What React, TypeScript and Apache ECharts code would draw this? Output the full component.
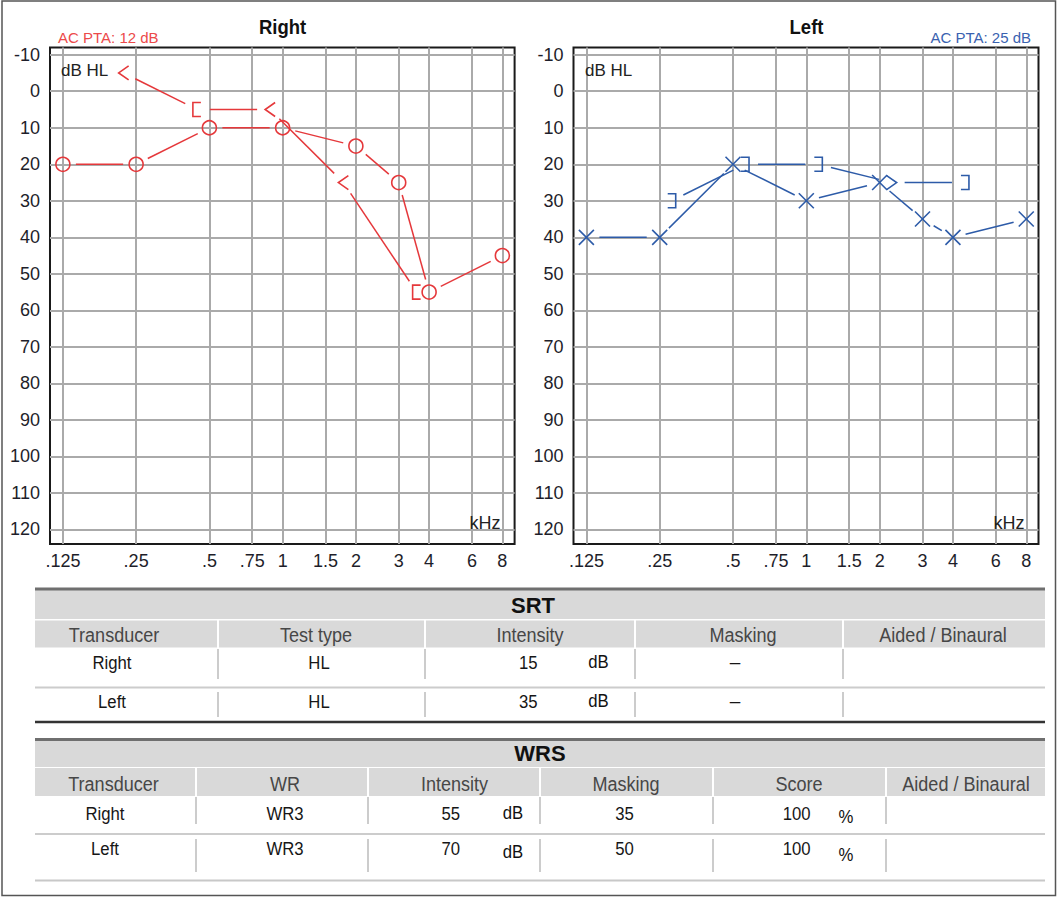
import React, { useEffect, useRef } from 'react';
import * as echarts from 'echarts';

// ---------- data ----------
const FREQS = [0.125, 0.25, 0.5, 0.75, 1, 1.5, 2, 3, 4, 6, 8];
const FREQ_LABELS = ['.125', '.25', '.5', '.75', '1', '1.5', '2', '3', '4', '6', '8'];
const DB_TICKS = [-10, 0, 10, 20, 30, 40, 50, 60, 70, 80, 90, 100, 110, 120];

const RIGHT_AC_FREQS = [0.125, 0.25, 0.5, 1, 2, 3, 4, 8];
const RIGHT_AC_DB = [20, 20, 10, 10, 15, 25, 55, 45];
const RIGHT_BC_FREQS = [0.25, 0.5, 1, 2, 4];
const RIGHT_BC_DB = [-5, 5, 5, 25, 55];
const RIGHT_BC_SYMBOLS = ['<', '[', '<', '<', '['];

const LEFT_AC_FREQS = [0.125, 0.25, 0.5, 1, 2, 3, 4, 8];
const LEFT_AC_DB = [40, 40, 20, 30, 25, 35, 40, 35];
const LEFT_BC_FREQS = [0.25, 0.5, 1, 2, 4];
const LEFT_BC_DB = [30, 20, 20, 25, 25];
const LEFT_BC_SYMBOLS = [']', ']', ']', '>', ']'];

const RIGHT_PTA = 12;
const LEFT_PTA = 25;

const SRT_HEADERS = ['Transducer', 'Test type', 'Intensity', 'Masking', 'Aided / Binaural'];
const SRT_TRANSDUCER = ['Right', 'Left'];
const SRT_TEST_TYPE = ['HL', 'HL'];
const SRT_INTENSITY = [15, 35];
const SRT_MASKING = ['–', '–'];

const WRS_HEADERS = ['Transducer', 'WR', 'Intensity', 'Masking', 'Score', 'Aided / Binaural'];
const WRS_TRANSDUCER = ['Right', 'Left'];
const WRS_WR = ['WR3', 'WR3'];
const WRS_INTENSITY = [55, 70];
const WRS_MASKING = [35, 50];
const WRS_SCORE = [100, 100];

// ---------- styling ----------
const FONT = '"Liberation Sans", Arial, Helvetica, sans-serif';
const RED = '#e5383b';
const BLUE = '#2d5ba8';
const GAP = 13;
const X_MIN = -3.176;
const X_MAX = 3.167;

function freqLabel(v: number): string {
  const i = FREQS.findIndex((f) => Math.abs(Math.log2(f) - v) < 1e-6);
  return i >= 0 ? FREQ_LABELS[i] : '';
}

function symbolShape(kind: string, cx: number, cy: number, color: string): any {
  const style = { stroke: color, lineWidth: 1.6, fill: 'none' };
  const poly = (pts: number[][]) => ({ type: 'polyline', shape: { points: pts }, style });
  switch (kind) {
    case 'O':
      return { type: 'circle', shape: { cx, cy, r: 7 }, style };
    case 'X':
      return {
        type: 'group',
        children: [
          { type: 'line', shape: { x1: cx - 7.5, y1: cy - 7.5, x2: cx + 7.5, y2: cy + 7.5 }, style },
          { type: 'line', shape: { x1: cx - 7.5, y1: cy + 7.5, x2: cx + 7.5, y2: cy - 7.5 }, style },
        ],
      };
    case '<':
      return poly([[cx + 5, cy - 7], [cx - 5, cy], [cx + 5, cy + 7]]);
    case '>':
      return poly([[cx - 5, cy - 7], [cx + 5, cy], [cx - 5, cy + 7]]);
    case '[':
      return poly([[cx + 4, cy - 7], [cx - 4, cy - 7], [cx - 4, cy + 7], [cx + 4, cy + 7]]);
    case ']':
    default:
      return poly([[cx - 4, cy - 7], [cx + 4, cy - 7], [cx + 4, cy + 7], [cx - 4, cy + 7]]);
  }
}

function makeTrack(name: string, freqs: number[], dbs: number[], symbols: string[], color: string, offset: number, gridIndex: number) {
  const data = freqs.map((f, i) => [Math.log2(f), dbs[i]]);
  return {
    name,
    type: 'custom',
    xAxisIndex: gridIndex,
    yAxisIndex: gridIndex,
    data,
    encode: { x: 0, y: 1 },
    clip: false,
    silent: true,
    renderItem: (params: any, api: any) => {
      const i = params.dataIndex;
      const p = api.coord([data[i][0], data[i][1]]);
      const cx = p[0] + offset;
      const cy = p[1];
      const children: any[] = [symbolShape(symbols[i], cx, cy, color)];
      if (i < data.length - 1) {
        const q = api.coord([data[i + 1][0], data[i + 1][1]]);
        const qx = q[0] + offset;
        const qy = q[1];
        const dx = qx - cx;
        const dy = qy - cy;
        const len = Math.hypot(dx, dy);
        if (len > 2 * GAP) {
          const ux = dx / len;
          const uy = dy / len;
          children.push({
            type: 'line',
            shape: { x1: cx + ux * GAP, y1: cy + uy * GAP, x2: qx - ux * GAP, y2: qy - uy * GAP },
            style: { stroke: color, lineWidth: 1.5 },
          });
        }
      }
      return { type: 'group', children };
    },
  };
}

function txt(text: string, x: number, y: number, o: any = {}): any {
  const align = o.align || 'center';
  return {
    type: 'text',
    x,
    y,
    scaleX: o.scaleX ?? 1,
    silent: true,
    z: 20,
    style: {
      text,
      fill: o.color || '#222',
      fontSize: o.size || 18,
      fontWeight: o.weight || 'normal',
      fontFamily: FONT,
      align,
      textAlign: align,
      verticalAlign: 'middle',
      textVerticalAlign: 'middle',
    },
  };
}

function hline(x1: number, x2: number, y: number, color: string, w: number): any {
  return { type: 'line', silent: true, z: 5, shape: { x1, y1: y, x2, y2: y }, style: { stroke: color, lineWidth: w } };
}
function vline(x: number, y1: number, y2: number, color: string, w: number): any {
  return { type: 'line', silent: true, z: 5, shape: { x1: x, y1, x2: x, y2 }, style: { stroke: color, lineWidth: w } };
}
function rect(x: number, y: number, w: number, h: number, fill: string): any {
  return { type: 'rect', silent: true, z: 4, shape: { x, y, width: w, height: h }, style: { fill } };
}

const HEAD_BG = '#d9d9d9';
const HEAD_TXT = '#474747';
const CELL_TXT = '#161616';
const SEP = '#cccccc';

function buildTables(): any[] {
  const els: any[] = [];
  const L = 35;
  const R = 1045;
  // ---- SRT ----
  const srtCols = [35, 218, 425, 635, 843, 1045];
  const srtHeadCenters = [114, 316, 530, 743, 943];
  els.push(rect(L, 589, R - L, 30, HEAD_BG));
  els.push(hline(L, R, 589, '#6f6f6f', 3));
  els.push(txt('SRT', 533, 605, { size: 22, weight: 'bold', color: '#111' }));
  for (let c = 0; c < srtCols.length - 1; c++) {
    const x0 = srtCols[c] + (c === 0 ? 0 : 1);
    const x1 = srtCols[c + 1] - (c === srtCols.length - 2 ? 0 : 1);
    els.push(rect(x0, 620.5, x1 - x0, 27, HEAD_BG));
    els.push(txt(SRT_HEADERS[c], srtHeadCenters[c], 634, { size: 21, scaleX: 0.86, color: HEAD_TXT }));
  }
  els.push(hline(L, R, 687.5, SEP, 2));
  els.push(hline(L, R, 722, '#333333', 2.5));
  const srtRowY = [663, 702];
  const srtSepY = [[649, 679], [692, 717]];
  for (let r = 0; r < 2; r++) {
    for (let c = 1; c < srtCols.length - 1; c++) {
      els.push(vline(srtCols[c], srtSepY[r][0], srtSepY[r][1], SEP, 2));
    }
    const y = srtRowY[r];
    els.push(txt(SRT_TRANSDUCER[r], 112, y, { size: 19, scaleX: 0.88, color: CELL_TXT }));
    els.push(txt(SRT_TEST_TYPE[r], 319, y, { size: 19, scaleX: 0.88, color: CELL_TXT }));
    els.push(txt(String(SRT_INTENSITY[r]), 537.5, y, { size: 19, scaleX: 0.88, color: CELL_TXT, align: 'right' }));
    els.push(txt('dB', 598.5, y - 1.5, { size: 19, scaleX: 0.88, color: '#111' }));
    els.push(txt(SRT_MASKING[r], 735, y - 2, { size: 19, color: CELL_TXT }));
  }

  // ---- WRS ----
  const wrsCols = [35, 196, 368, 540, 713, 886, 1045];
  const wrsHeadCenters = [113.5, 285, 454.5, 626, 799, 966];
  els.push(rect(L, 740, R - L, 27, HEAD_BG));
  els.push(hline(L, R, 739.5, '#6f6f6f', 3));
  els.push(txt('WRS', 540, 753.5, { size: 22, weight: 'bold', color: '#111' }));
  for (let c = 0; c < wrsCols.length - 1; c++) {
    const x0 = wrsCols[c] + (c === 0 ? 0 : 1);
    const x1 = wrsCols[c + 1] - (c === wrsCols.length - 2 ? 0 : 1);
    els.push(rect(x0, 768, x1 - x0, 28, HEAD_BG));
    els.push(txt(WRS_HEADERS[c], wrsHeadCenters[c], 783, { size: 21, scaleX: 0.86, color: HEAD_TXT }));
  }
  els.push(hline(L, R, 834, SEP, 2));
  els.push(hline(L, R, 880.5, '#c8c8c8', 2));
  const wrsRowY = [814, 849];
  const wrsSepY = [[797, 824], [839, 872]];
  for (let r = 0; r < 2; r++) {
    for (let c = 1; c < wrsCols.length - 1; c++) {
      els.push(vline(wrsCols[c], wrsSepY[r][0], wrsSepY[r][1], SEP, 2));
    }
    const y = wrsRowY[r];
    els.push(txt(WRS_TRANSDUCER[r], 105, y, { size: 19, scaleX: 0.88, color: CELL_TXT }));
    els.push(txt(WRS_WR[r], 285, y, { size: 19, scaleX: 0.88, color: CELL_TXT }));
    els.push(txt(String(WRS_INTENSITY[r]), 460, y, { size: 19, scaleX: 0.88, color: CELL_TXT, align: 'right' }));
    els.push(txt('dB', 513, y + (r === 0 ? -1.5 : 3), { size: 19, scaleX: 0.88, color: '#111' }));
    els.push(txt(String(WRS_MASKING[r]), 624.5, y, { size: 19, scaleX: 0.88, color: CELL_TXT }));
    els.push(txt(String(WRS_SCORE[r]), 810.5, y, { size: 19, scaleX: 0.88, color: CELL_TXT, align: 'right' }));
    els.push(txt('%', 846, y + (r === 0 ? 3 : 6), { size: 19, scaleX: 0.88, color: '#111' }));
  }
  return els;
}

function xAxis(gridIndex: number): any {
  const ticks = FREQS.map((f) => Math.log2(f));
  return {
    type: 'value',
    gridIndex,
    min: X_MIN,
    max: X_MAX,
    axisLine: { show: false },
    axisTick: { show: false, customValues: ticks },
    axisLabel: {
      customValues: ticks,
      formatter: (v: number) => freqLabel(v),
      fontSize: 18,
      fontFamily: FONT,
      color: '#1e1e2a',
      margin: 8,
    },
    splitLine: { show: true, lineStyle: { color: '#aaaaaa', width: 2 } },
  };
}

function yAxis(gridIndex: number): any {
  return {
    type: 'value',
    gridIndex,
    inverse: true,
    min: -12,
    max: 124,
    axisLine: { show: false },
    axisTick: { show: false, customValues: DB_TICKS },
    axisLabel: {
      customValues: DB_TICKS,
      fontSize: 18,
      fontFamily: FONT,
      color: '#1e1e2a',
      margin: 10,
    },
    splitLine: { show: true, lineStyle: { color: '#aaaaaa', width: 2 } },
  };
}

export default function App() {
  const ref = useRef<HTMLDivElement>(null);
  useEffect(() => {
    if (!ref.current) return;
    const chart = echarts.init(ref.current, undefined, { renderer: 'svg' });
    const graphics: any[] = [
      {
        type: 'rect',
        silent: true,
        z: 1,
        shape: { x: 2, y: 1, width: 1053.5, height: 894.5 },
        style: { fill: 'none', stroke: '#555555', lineWidth: 1.5 },
      },
      txt('Right', 282.5, 26.5, { size: 21, weight: 'bold', scaleX: 0.88, color: '#111' }),
      txt('Left', 806.5, 26.5, { size: 21, weight: 'bold', scaleX: 0.88, color: '#111' }),
      txt(`AC PTA: ${RIGHT_PTA} dB`, 58, 37.5, { size: 15, align: 'left', color: '#ec4a4a' }),
      txt(`AC PTA: ${LEFT_PTA} dB`, 1031, 37.5, { size: 15, align: 'right', color: '#3a62b0' }),
      txt('dB HL', 61, 70, { size: 17, align: 'left', color: '#222' }),
      txt('dB HL', 585, 70, { size: 17, align: 'left', color: '#222' }),
      txt('kHz', 500.5, 523, { size: 18, align: 'right', color: '#222' }),
      txt('kHz', 1024.5, 523, { size: 18, align: 'right', color: '#222' }),
      ...buildTables(),
    ];
    chart.setOption({
      animation: false,
      backgroundColor: '#ffffff',
      grid: [
        { left: 50, top: 47.4, width: 464.6, height: 496.7, show: true, borderColor: '#1a1a1a', borderWidth: 2, backgroundColor: 'transparent' },
        { left: 573.5, top: 47.4, width: 465, height: 496.7, show: true, borderColor: '#1a1a1a', borderWidth: 2, backgroundColor: 'transparent' },
      ],
      xAxis: [xAxis(0), xAxis(1)],
      yAxis: [yAxis(0), yAxis(1)],
      series: [
        makeTrack('Right AC', RIGHT_AC_FREQS, RIGHT_AC_DB, RIGHT_AC_FREQS.map(() => 'O'), RED, 0, 0),
        makeTrack('Right BC', RIGHT_BC_FREQS, RIGHT_BC_DB, RIGHT_BC_SYMBOLS, RED, -12.5, 0),
        makeTrack('Left AC', LEFT_AC_FREQS, LEFT_AC_DB, LEFT_AC_FREQS.map(() => 'X'), BLUE, 0, 1),
        makeTrack('Left BC', LEFT_BC_FREQS, LEFT_BC_DB, LEFT_BC_SYMBOLS, BLUE, 12, 1),
      ],
      graphic: { elements: graphics },
    });
    return () => chart.dispose();
  }, []);
  return (
    <div
      ref={ref}
      style={{ position: 'absolute', left: 0, top: 0, width: 1060, height: 897, background: '#fff' }}
    />
  );
}
